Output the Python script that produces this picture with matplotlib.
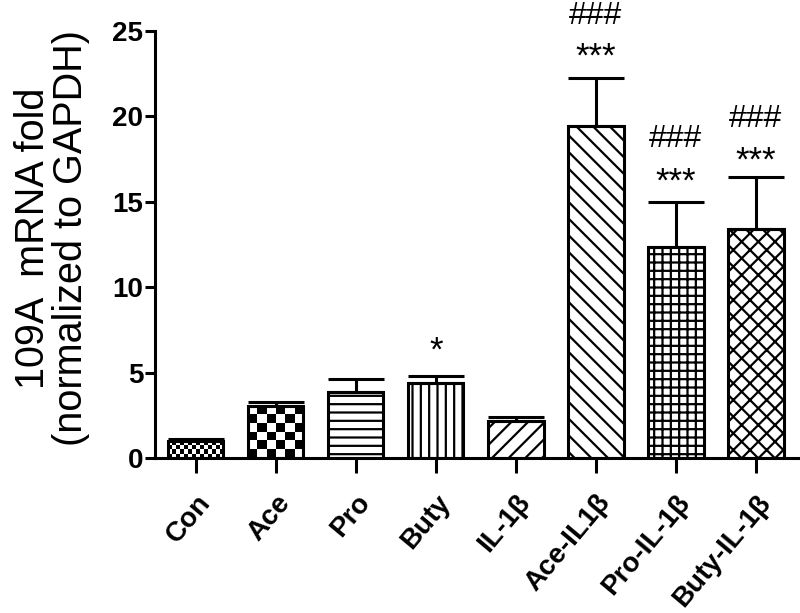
import numpy as np
import matplotlib
matplotlib.use('Agg')
from matplotlib import pyplot as plt

plt.rcParams['font.family'] = ['Liberation Sans', 'DejaVu Sans']
plt.rcParams['hatch.linewidth'] = 1.6

# data
groups = ['Con', 'Ace', 'Pro', 'Buty', 'IL-1β', 'Ace-IL1β', 'Pro-IL-1β', 'Buty-IL-1β']
means = [1.0, 3.05, 3.85, 4.4, 2.17, 19.45, 12.36, 13.4]
errs = [0.12, 0.2, 0.8, 0.4, 0.25, 2.8, 2.64, 3.05]
hatches = [None, None, '--', '||', '//', '\\\\', '++', 'xx']
checker_px = [4, 9, 0, 0, 0, 0, 0, 0]  # checkerboard square size (px), 0 = none
star_labels = ['', '', '', '*', '', '***', '***', '***']
star_y = [0, 0, 0, 5.7, 0, 22.9, 15.6, 16.8]
hash_labels = ['', '', '', '', '', '###', '###', '###']
hash_y = [0, 0, 0, 0, 0, 25.4, 18.2, 19.4]

fig = plt.figure(figsize=(8, 6.13), dpi=100)
ax = fig.add_axes([155 / 800, 155 / 613, 645 / 800, 427 / 613])

x = np.arange(len(groups))
lw = 2.2
bars = ax.bar(x, means, width=0.69, facecolor='none', edgecolor='black', linewidth=lw, zorder=3)
for b, h in zip(bars, hatches):
    if h:
        b.set_hatch(h)
ax.errorbar(x, means, yerr=[np.zeros(len(errs)), errs], fmt='none', ecolor='black',
            elinewidth=lw, capsize=20, capthick=lw, zorder=2)

ax.set_xlim(-0.51, 7.55)
ax.set_ylim(0, 25)

# checkerboard fills
fig.canvas.draw()
for b, sq in zip(bars, checker_px):
    if not sq:
        continue
    x0, y0, w, h = b.get_x(), b.get_y(), b.get_width(), b.get_height()
    (px0, py0), (px1, py1) = ax.transData.transform([(x0, y0), (x0 + w, y0 + h)])
    nx = max(1, int(round((px1 - px0) / sq)))
    ny = max(1, int(round((py1 - py0) / sq)))
    img = np.add.outer(np.arange(ny), np.arange(nx)) % 2
    im = ax.imshow(img, cmap='gray', extent=(x0, x0 + w, y0, y0 + h), aspect='auto',
                   interpolation='nearest', origin='lower', zorder=1)
    im.set_clip_path(b)
ax.set_xlim(-0.51, 7.55)
ax.set_ylim(0, 25)

for i in range(len(groups)):
    if star_labels[i]:
        ax.text(x[i], star_y[i], star_labels[i], ha='center', va='baseline', fontsize=25, clip_on=False)
    if hash_labels[i]:
        ax.text(x[i], hash_y[i], hash_labels[i], ha='center', va='baseline', fontsize=23, clip_on=False)

ax.spines['top'].set_visible(False)
ax.spines['right'].set_visible(False)
ax.spines['left'].set_linewidth(lw)
ax.spines['bottom'].set_linewidth(lw)
ax.set_yticks([0, 5, 10, 15, 20, 25])
ax.tick_params(axis='y', length=7, width=lw, pad=1.5, labelsize=20)
ax.tick_params(axis='x', length=11, width=lw, pad=12, labelsize=20)
for t in ax.get_yticklabels():
    t.set_fontweight('bold')
ax.set_xticks(x)
ax.set_xticklabels(groups, rotation=50, ha='right', rotation_mode='anchor', fontweight='bold')

fig.text(52 / 800, 1 - 238 / 613, '109A  mRNA fold\n(normalized to GAPDH)', rotation=90,
         ha='center', va='center', multialignment='center', fontsize=28.5, linespacing=1.0)

plt.savefig('out.png', dpi=100)
